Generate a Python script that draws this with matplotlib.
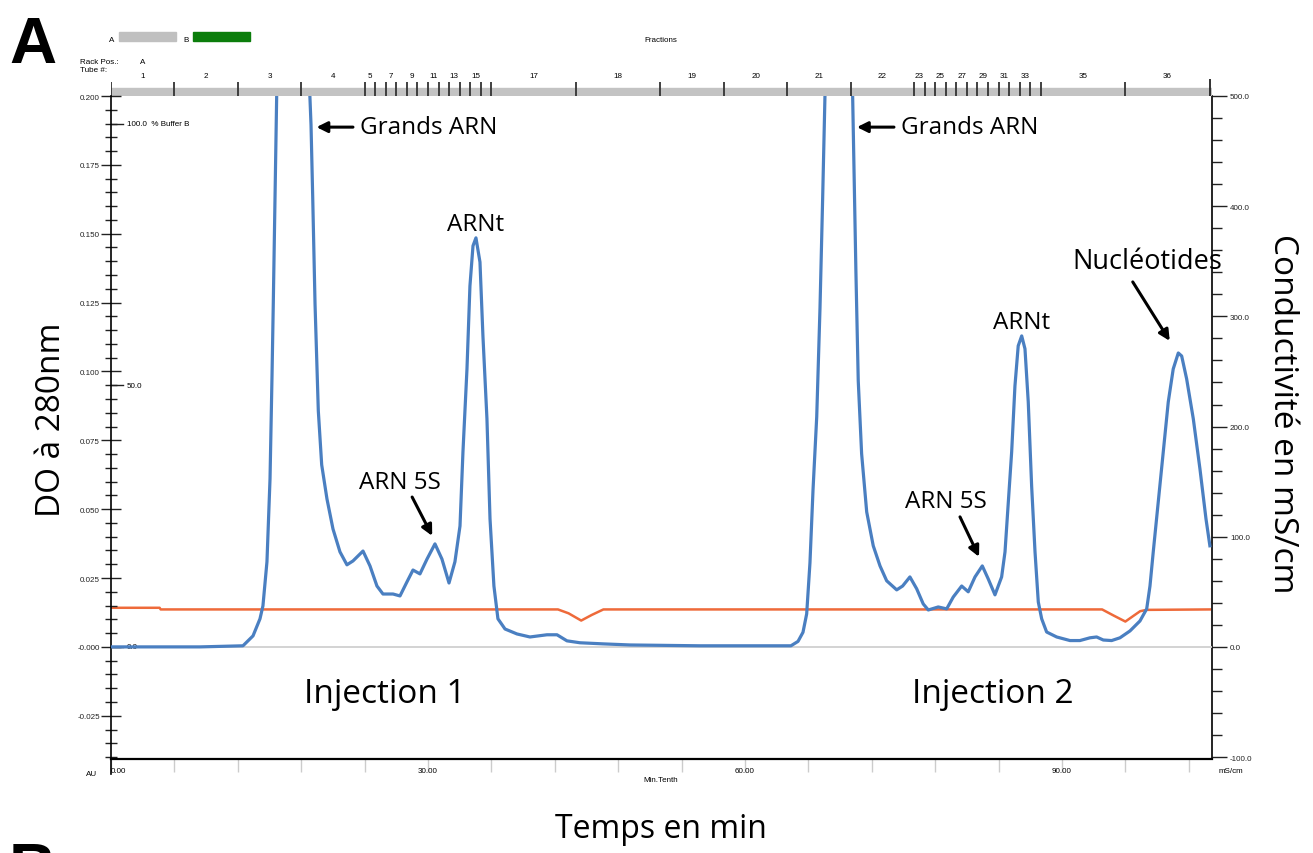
"""FPLC chromatogram: UV 280 nm and conductivity for two RNA injections."""

import matplotlib

matplotlib.use("Agg")

import matplotlib.pyplot as plt
from matplotlib import font_manager
from matplotlib.patches import Rectangle
from matplotlib.ticker import FixedFormatter, FixedLocator, MultipleLocator
from matplotlib.transforms import blended_transform_factory

W, H = 1313, 854

# UV absorbance at 280 nm (AU) against elution time (min)
uv_time = [
    0.00, 8.42, 12.49, 13.44, 14.10, 14.38, 14.76, 15.05, 15.24, 15.36,
    15.52, 15.68, 16.40, 17.30, 18.20, 18.83, 18.93, 19.09, 19.31, 19.62,
    19.94, 20.44, 21.01, 21.67, 22.33, 22.90, 23.85, 24.51, 25.17, 25.74,
    26.69, 27.35, 28.01, 28.58, 29.24, 29.91, 30.66, 31.32, 31.99, 32.55,
    33.03, 33.31, 33.69, 33.97, 34.26, 34.54, 34.92, 35.20, 35.58, 35.87,
    36.24, 36.62, 37.29, 38.42, 39.65, 41.26, 42.21, 43.15, 44.38, 46.56,
    49.12, 55.74, 61.42, 64.35,
    65.02, 65.49, 65.84, 66.15, 66.44, 66.79, 67.10, 67.35, 67.57, 68.30,
    68.90, 69.60, 70.19, 70.31, 70.50, 70.72, 71.04, 71.52, 72.14, 72.78,
    73.41, 74.36, 74.92, 75.61, 76.25, 76.87, 77.35, 78.29, 79.09, 79.71,
    80.51, 81.13, 81.77, 82.46, 83.02, 83.66, 84.29, 84.61, 84.92, 85.24,
    85.55, 85.86, 86.19, 86.50, 86.81, 87.13, 87.45, 87.76, 88.08, 88.55,
    89.50, 90.76, 91.70, 92.65, 93.28, 93.91, 94.70, 95.49, 96.44, 97.38,
    98.02, 98.33, 98.64, 99.11, 99.59, 100.06, 100.53, 101.01, 101.33, 101.80,
    102.43, 103.06, 103.63, 104.00,
]
uv_abs = [
    0.0000, 0.0000, 0.0004, 0.0040, 0.0102, 0.0149, 0.0309, 0.0610, 0.0987, 0.1249,
    0.1633, 0.2000, 0.2600, 0.2800, 0.2600, 0.2000, 0.1895, 0.1633, 0.1245, 0.0857,
    0.0661, 0.0537, 0.0428, 0.0345, 0.0298, 0.0312, 0.0348, 0.0294, 0.0221, 0.0192,
    0.0192, 0.0185, 0.0236, 0.0279, 0.0265, 0.0319, 0.0374, 0.0319, 0.0232, 0.0309,
    0.0439, 0.0708, 0.1009, 0.1310, 0.1456, 0.1485, 0.1397, 0.1129, 0.0828, 0.0465,
    0.0221, 0.0102, 0.0065, 0.0047, 0.0036, 0.0044, 0.0044, 0.0022, 0.0015, 0.0011,
    0.0007, 0.0004, 0.0004, 0.0004,
    0.0020, 0.0053, 0.0120, 0.0305, 0.0570, 0.0835, 0.1230, 0.1626, 0.2000, 0.2700,
    0.2900, 0.2700, 0.2000, 0.1760, 0.1361, 0.0966, 0.0701, 0.0490, 0.0367, 0.0294,
    0.0240, 0.0207, 0.0221, 0.0254, 0.0211, 0.0156, 0.0134, 0.0145, 0.0138, 0.0181,
    0.0221, 0.0200, 0.0254, 0.0294, 0.0247, 0.0189, 0.0254, 0.0345, 0.0526, 0.0708,
    0.0947, 0.1093, 0.1129, 0.1082, 0.0889, 0.0584, 0.0345, 0.0163, 0.0102, 0.0054,
    0.0036, 0.0023, 0.0023, 0.0033, 0.0036, 0.0025, 0.0023, 0.0033, 0.0058, 0.0094,
    0.0138, 0.0221, 0.0345, 0.0526, 0.0708, 0.0889, 0.1009, 0.1067, 0.1056, 0.0973,
    0.0828, 0.0646, 0.0465, 0.0367,
]

# conductivity (mS/cm)
cond_time = [0.0, 4.6, 4.7, 42.3, 43.3, 44.5, 45.5, 46.6, 93.8, 94.9, 96.0, 96.8, 97.4, 98.0, 104.0]
cond_ms = [35.5, 35.5, 34.0, 34.0, 30.5, 23.9, 29.0, 34.0, 34.0, 28.4, 23.0, 28.4, 32.4, 33.6, 34.0]

# fraction collector: boundaries (min) and tube numbers ('' = unlabeled tube)
fraction_edges = (
    [0, 6, 12, 18, 24] + list(range(25, 37)) + [44, 52, 58, 64, 70, 76]
    + list(range(77, 89)) + [96, 104]
)
fraction_labels = (
    ["1", "2", "3", "4"]
    + [str(n) if n % 2 else "" for n in range(5, 17)]
    + ["17", "18", "19", "20", "21", "22"]
    + [str(n) if n % 2 else "" for n in range(23, 35)]
    + ["35", "36"]
)

left_ticks = [0.200, 0.175, 0.150, 0.125, 0.100, 0.075, 0.050, 0.025, 0.0, -0.025]
left_labels = ["0.200", "0.175", "0.150", "0.125", "0.100", "0.075", "0.050", "0.025", "-0.000", "-0.025"]
right_ticks = [500, 400, 300, 200, 100, 0, -100]
right_labels = ["500.0", "400.0", "300.0", "200.0", "100.0", "0.0", "-100.0"]
time_ticks = [0, 30, 60, 90]
time_labels = ["0.00", "30.00", "60.00", "90.00"]
buffer_levels = [0.190, 0.095, 0.0]
buffer_labels = ["100.0  % Buffer B", "50.0", "0.0"]

# peak annotations: (text, text x, text y, font size, arrow tail, arrow tip)
peak_notes = [
    ("Grands ARN", 23.6, 0.1887, 17.5, (22.9, 0.1887), (19.45, 0.1887)),
    ("Grands ARN", 74.8, 0.1887, 17.5, (74.1, 0.1887), (70.6, 0.1887)),
    ("ARN 5S", 27.3, 0.0599, 17.5, (28.5, 0.0544), (30.4, 0.0403)),
    ("ARN 5S", 79.0, 0.0530, 17.5, (80.35, 0.0472), (82.15, 0.0327)),
    ("Nucléotides", 98.1, 0.1401, 19.5, (96.7, 0.1325), (100.2, 0.1111)),
]
plain_notes = [
    ("ARNt", 34.54, 0.1535, 17.5),
    ("ARNt", 86.2, 0.1180, 17.5),
    ("Injection 1", 25.9, -0.0171, 24),
    ("Injection 2", 83.5, -0.0171, 24),
]

BLUE = "#4a7fc1"
ORANGE = "#ee6a3a"


def pick_font(candidates: list[str], default: str) -> str:
    names = {f.name for f in font_manager.fontManager.ttflist}
    for name in candidates:
        if name in names:
            return name
    return default


def px(x: float, y: float) -> tuple[float, float]:
    return x / W, 1 - y / H


tiny = pick_font(["Liberation Sans Narrow"], "Liberation Sans")
tiny_size = 6.5 if tiny == "Liberation Sans Narrow" else 5.8
label_font = pick_font(["Open Sans"], "DejaVu Sans")
plt.rcParams["font.family"] = [tiny, "DejaVu Sans"]

fig = plt.figure(figsize=(W / 100, H / 100), dpi=100)
ax = fig.add_axes([111 / W, 1 - 760 / H, 1101 / W, 663 / H])
ax2 = ax.twinx()
ax.set_zorder(ax2.get_zorder() + 1)
ax.patch.set_visible(False)

ax.set_xlim(0, 104.2)
ax.set_ylim(-0.0407, 0.2)
ax2.set_ylim(-0.0407 * 2500, 500)

ax2.plot(cond_time, cond_ms, color=ORANGE, lw=1.8)
ax.axhline(0, color="#d0d0d0", lw=1.3, zorder=1)
ax.plot(uv_time, uv_abs, color=BLUE, lw=2.3, zorder=3)

# left axis (absorbance)
ax.yaxis.set_major_locator(FixedLocator(left_ticks))
ax.yaxis.set_major_formatter(FixedFormatter(left_labels))
ax.yaxis.set_minor_locator(MultipleLocator(0.005))
ax.tick_params(axis="y", which="major", direction="inout", length=14, width=1, labelsize=tiny_size, pad=1, colors="#222222")
ax.tick_params(axis="y", which="minor", direction="inout", length=8, width=1, color="#222222")

# bottom axis (time)
ax.xaxis.set_major_locator(FixedLocator(time_ticks))
ax.xaxis.set_major_formatter(FixedFormatter(time_labels))
ax.xaxis.set_minor_locator(MultipleLocator(6))
ax.tick_params(axis="x", which="both", direction="out", length=9, width=1, color="#cccccc", labelsize=tiny_size, pad=-3)
ax.get_xticklabels()[0].set_ha("left")

for side in ("top", "right"):
    ax.spines[side].set_visible(False)
ax.spines["left"].set_linewidth(1.2)
ax.spines["bottom"].set_linewidth(1.6)

# right axis (conductivity)
ax2.yaxis.set_major_locator(FixedLocator(right_ticks))
ax2.yaxis.set_major_formatter(FixedFormatter(right_labels))
ax2.yaxis.set_minor_locator(MultipleLocator(20))
ax2.tick_params(axis="y", which="major", direction="out", length=11, width=1, labelsize=tiny_size, pad=2, colors="#222222")
ax2.tick_params(axis="y", which="minor", direction="out", length=7, width=1, color="#222222")
for side in ("top", "left", "bottom"):
    ax2.spines[side].set_visible(False)
ax2.spines["right"].set_linewidth(1.2)

# left spine runs a little below the time axis
ax.plot([0, 0], [0, -0.022], transform=ax.transAxes, color="black", lw=1.2, clip_on=False)

# % Buffer B scale inside the left axis
buf_tr = blended_transform_factory(ax.transAxes, ax.transData)
for level, text in zip(buffer_levels, buffer_labels):
    ax.plot([0, 0.011], [level, level], transform=buf_tr, color="#222222", lw=1, zorder=2)
    ax.text(0.0145, level, text, transform=buf_tr, fontsize=tiny_size, va="center", ha="left", zorder=2)

# fraction collector bar
fax = fig.add_axes([111 / W, 1 - 97 / H, 1101 / W, 17 / H])
fax.set_xlim(ax.get_xlim())
fax.set_ylim(0, 17)
fax.axis("off")
fax.axhspan(0, 8.5, color="#c3c3c3")
fax.vlines(fraction_edges[:-1], 0, 14, color="#333333", lw=1.3)
fax.vlines(fraction_edges[-1:], 0, 17, color="#222222", lw=1.3)
for lo, hi, lab in zip(fraction_edges[:-1], fraction_edges[1:], fraction_labels):
    fax.text((lo + hi) / 2, 20, lab, fontsize=tiny_size, ha="center", va="center", clip_on=False)

fig.text(*px(80, 62), "Rack Pos.:", fontsize=tiny_size, ha="left", va="center")
fig.text(*px(80, 71), "Tube #:", fontsize=tiny_size, ha="left", va="center")
fig.text(*px(142.7, 62), "A", fontsize=tiny_size, ha="center", va="center")
fig.text(*px(661, 41), "Fractions", fontsize=tiny_size, ha="center", va="center")

# buffer legend
fig.text(*px(112, 40), "A", fontsize=tiny_size, ha="center", va="center")
fig.patches.append(Rectangle(px(119, 42), 57 / W, 9 / H, transform=fig.transFigure, color="#c0c0c0"))
fig.text(*px(186, 40), "B", fontsize=tiny_size, ha="center", va="center")
fig.patches.append(Rectangle(px(193, 42), 57 / W, 9 / H, transform=fig.transFigure, color="#0b7d0b"))

# axis unit captions
fig.text(*px(92, 775), "AU", fontsize=tiny_size, ha="center", va="center")
fig.text(*px(661, 781), "Min.Tenth", fontsize=tiny_size, ha="center", va="center")
fig.text(*px(1219, 772), "mS/cm", fontsize=tiny_size, ha="left", va="center")

# peak labels
for text, tx, ty, size, tail, tip in peak_notes:
    ha = "left" if text == "Grands ARN" else "center"
    ax.text(tx, ty, text, family=label_font, fontsize=size, ha=ha, va="center", zorder=5)
    ax.annotate("", xy=tip, xytext=tail,
                arrowprops=dict(arrowstyle="-|>", color="black", lw=2.2, mutation_scale=16, shrinkA=0, shrinkB=0),
                zorder=5)
for text, tx, ty, size in plain_notes:
    ax.text(tx, ty, text, family=label_font, fontsize=size, ha="center", va="center", zorder=5)

fig.text(*px(661, 830), "Temps en min", family=label_font, fontsize=23, ha="center", va="center")
fig.text(*px(52, 420), "DO à 280nm", family=label_font, fontsize=24, ha="center", va="center", rotation=90)
fig.text(*px(1283, 414), "Conductivité en mS/cm", family=label_font, fontsize=24, ha="center", va="center", rotation=-90)

# panel letters (B is cut by the lower edge, as in the source figure)
fig.text(*px(9, 63), "A", family="Liberation Sans", fontweight="bold", fontsize=47, ha="left", va="baseline")
fig.text(*px(9, 842), "B", family="Liberation Sans", fontweight="bold", fontsize=47, ha="left", va="top")

fig.savefig("out.png", dpi=100)
